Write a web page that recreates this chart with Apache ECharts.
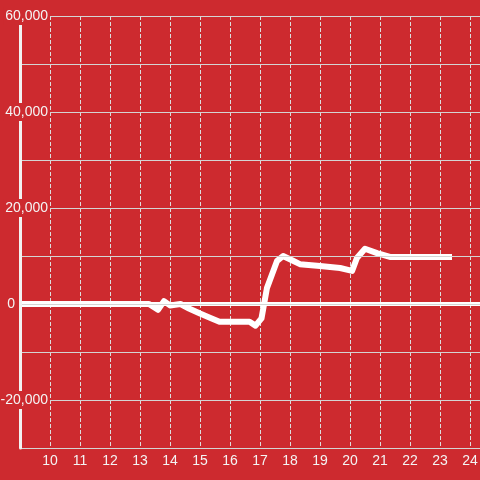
<!DOCTYPE html>
<html>
<head>
<meta charset="utf-8">
<script src="https://cdn.jsdelivr.net/npm/echarts@6/dist/echarts.min.js"></script>
<style>
    html, body { margin: 0; padding: 0; background: #cd2a2f; }
    #chart { width: 480px; height: 480px; }
</style>
</head>
<body>
<div id="chart"></div>
<script>
// hours of the day (x) and matching values (y)
var hours = [9.0, 13.3, 13.6, 13.8, 14.0, 14.35, 14.65, 15.0, 15.35, 15.65, 16.65, 16.85, 17.05,
    17.23, 17.57, 17.77, 18.1, 18.33, 19.0, 19.67, 20.07, 20.23, 20.5, 20.9, 21.33, 23.4]
var values = [0, 0, -1200, 600, -300, 0, -1000, -2000, -2900, -3700, -3700, -4500, -3000,
    3300, 9000, 10000, 9000, 8300, 7900, 7500, 6900, 9600, 11500, 10600, 9800, 9800]
var xTicks = [10, 11, 12, 13, 14, 15, 16, 17, 18, 19, 20, 21, 22, 23, 24]
var yLabels = [60000, 40000, 20000, 0, -20000]

var red = '#cd2a2f'
var chart = echarts.init(document.getElementById('chart'))

var points = hours.map(function (h, i) { return [h, values[i]] })

var option = {
    backgroundColor: red,
    animation: false,
    grid: { left: 20, right: 0, top: 16, bottom: 32, outerBoundsMode: 'none', containLabel: false },
    xAxis: {
        type: 'value',
        min: 9,
        max: 24.333,
        interval: 1,
        axisLine: { lineStyle: { color: '#d9d9d9', width: 1 } },
        axisTick: { show: false },
        axisLabel: {
            color: '#f4f4f4',
            fontSize: 14,
            margin: 6,
            showMinLabel: false,
            formatter: function (v) {
                return xTicks.indexOf(v) >= 0 ? String(v) : ''
            }
        },
        splitLine: { show: true, showMinLine: false, lineStyle: { color: '#dddddd', type: 'dashed', width: 1 } }
    },
    yAxis: {
        type: 'value',
        min: -30000,
        max: 60000,
        interval: 10000,
        z: 5,
        axisLine: { show: true, lineStyle: { color: '#f2f2f2', width: 3 } },
        axisTick: { show: false },
        axisLabel: {
            fontSize: 14,
            margin: -30,
            align: 'right',
            formatter: function (v) {
                if (v === 0) return '{z|0}'
                return yLabels.indexOf(v) >= 0 ? '{t|' + echarts.format.addCommas(v) + '}' : ''
            },
            rich: {
                t: { color: '#f4f4f4', fontSize: 14, backgroundColor: red, padding: [2, 2] },
                // the zero label sits left of the axis, clear of the zero line
                z: { color: '#f4f4f4', fontSize: 14, padding: [0, 35, 0, 0] }
            }
        },
        splitLine: { lineStyle: { color: '#d4d4d4', width: 1 } }
    },
    series: [
        {
            type: 'line',
            data: points,
            showSymbol: false,
            symbol: 'none',
            lineStyle: { color: '#ffffff', width: 6, cap: 'butt', join: 'round' },
            markLine: {
                silent: true,
                symbol: 'none',
                label: { show: false },
                lineStyle: { color: '#ffffff', width: 4, type: 'solid' },
                data: [{ yAxis: 0 }],
                z: 1
            },
            z: 3
        }
    ]
}
chart.setOption(option)
</script>
</body>
</html>
